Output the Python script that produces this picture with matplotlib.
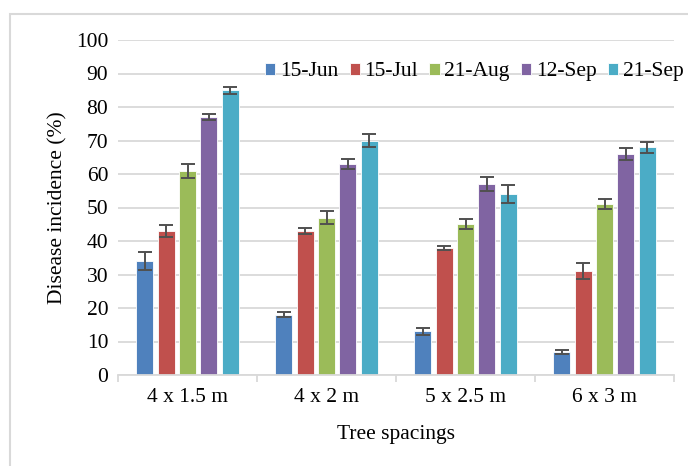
import numpy as np
import matplotlib
matplotlib.use("Agg")
import matplotlib.pyplot as plt
from matplotlib.patches import Rectangle

# data
spacings = ["4 x 1.5 m", "4 x 2 m", "5 x 2.5 m", "6 x 3 m"]
dates = ["15-Jun", "15-Jul", "21-Aug", "12-Sep", "21-Sep"]
jun15 = [34, 18, 13, 7]
jul15 = [43, 43, 38, 31]
aug21 = [61, 47, 45, 51]
sep12 = [77, 63, 57, 66]
sep21 = [85, 70, 54, 68]
jun15_err = [2.7, 0.7, 1.0, 0.6]
jul15_err = [1.7, 0.8, 0.6, 2.3]
aug21_err = [2.1, 1.9, 1.5, 1.5]
sep12_err = [1.0, 1.6, 2.1, 1.8]
sep21_err = [1.0, 2.0, 2.6, 1.7]

series = [jun15, jul15, aug21, sep12, sep21]
errors = [jun15_err, jul15_err, aug21_err, sep12_err, sep21_err]
colors = ["#4F81BD", "#C0504D", "#9BBB59", "#8064A2", "#4BACC6"]

plt.rcParams["font.family"] = ["Liberation Serif", "DejaVu Serif"]
fs = 15.5

fig = plt.figure(figsize=(6.88, 4.66), dpi=100)
ax = fig.add_axes([118 / 688, 1 - 375 / 466, 556 / 688, 335 / 466])

# light outer frame like the spreadsheet chart area
fig.patches.append(Rectangle((10 / 688, -0.1), 1.2, 1.1 - 14 / 466,
                             transform=fig.transFigure, fill=False,
                             edgecolor="#D9D9D9", lw=1.5))

x = np.arange(len(spacings))
pitch = 0.153
width = 0.122
for i, (vals, errs, c, lab) in enumerate(zip(series, errors, colors, dates)):
    pos = x + (i - 2) * pitch
    ax.bar(pos, vals, width, color=c, edgecolor="white", linewidth=0.6,
           label=lab, zorder=2)
    ax.errorbar(pos, vals, yerr=errs, fmt="none", ecolor="#505050",
                elinewidth=1.4, capsize=5, capthick=1.4, zorder=3)

ax.set_ylim(0, 100)
ax.set_xlim(-0.5, len(spacings) - 0.5)
ax.set_yticks(range(0, 101, 10))
ax.yaxis.grid(True, color="#D9D9D9", lw=1.3, zorder=0)
ax.set_axisbelow(True)
for s in ["top", "right", "left"]:
    ax.spines[s].set_visible(False)
ax.spines["bottom"].set_color("#D9D9D9")
ax.spines["bottom"].set_linewidth(1.3)

ax.set_xticks(x)
ax.set_xticklabels(spacings, fontsize=fs)
ax.set_xticks(np.arange(-0.5, len(spacings), 1), minor=True)
ax.tick_params(axis="x", which="major", length=0, pad=9)
ax.tick_params(axis="x", which="minor", length=5, color="#D9D9D9", width=1.3)
ax.tick_params(axis="y", length=0, labelsize=fs, pad=7)

ax.set_ylabel("Disease incidence (%)", fontsize=fs, labelpad=6)
ax.set_xlabel("Tree spacings", fontsize=fs, labelpad=13.5)

ax.legend(ncol=5, loc="center left", bbox_to_anchor=((265 - 118) / 556, 0.9045),
          frameon=False, fontsize=fs, handlelength=0.47, handleheight=0.47,
          handletextpad=0.23, columnspacing=0.52, borderaxespad=0, borderpad=0)

fig.savefig("out.png", dpi=100)
